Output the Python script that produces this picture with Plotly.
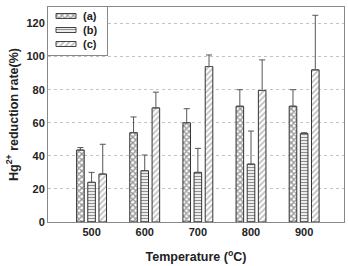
import plotly.graph_objects as go

temps = ["500", "600", "700", "800", "900"]
vals_a = [43.5, 54, 60, 70, 70]
err_a = [1.5, 9.5, 8.5, 10, 10]
vals_b = [24, 31, 30, 35, 53.5]
err_b = [6, 9.5, 14.5, 20, 0.5]
vals_c = [29, 69, 94, 79.5, 92]
err_c = [18, 9.5, 7, 18.5, 33]
names = ["(a)", "(b)", "(c)"]

styles = [
    dict(shape="x", fgcolor="#333333", bgcolor="#ffffff", size=4, solidity=0.6),
    dict(shape="-", fgcolor="#222222", bgcolor="#ffffff", size=3, solidity=0.45),
    dict(shape="/", fgcolor="#808080", bgcolor="#ffffff", size=4, solidity=0.45),
]

TXT = "#222222"
fig = go.Figure()
for name, v, e, st in zip(names, [vals_a, vals_b, vals_c], [err_a, err_b, err_c], styles):
    fig.add_trace(go.Bar(
        name=name, x=temps, y=v, showlegend=False,
        marker=dict(color="white", line=dict(color="#333333", width=1), pattern=st),
        error_y=dict(type="data", symmetric=False, array=e, arrayminus=[0] * len(e),
                     color="#555555", thickness=1, width=3),
    ))

# custom legend drawn in an inset subplot (pixel units inside the legend box)
box_w, box_h = 59, 48
rows = [9, 23, 37]
for name, st, yy in zip(names, styles, rows):
    fig.add_trace(go.Bar(
        x=[20], y=[yy], base=[8], orientation="h", width=5, showlegend=False,
        xaxis="x2", yaxis="y2", hoverinfo="skip",
        marker=dict(color="white", line=dict(color="#444444", width=1), pattern=st),
    ))
    fig.add_annotation(x=33, y=yy, xref="x2", yref="y2", text="<b>%s</b>" % name,
                       showarrow=False, xanchor="left", yanchor="middle",
                       font=dict(family="Liberation Sans", size=11, color=TXT))

W, H = 348, 266
ml, mr, mt, mb = 48, 4, 7, 44
pw, ph = W - ml - mr, H - mt - mb

fig.update_layout(
    width=W, height=H,
    margin=dict(l=ml, r=mr, t=mt, b=mb),
    paper_bgcolor="white", plot_bgcolor="white",
    barmode="group", bargap=0.37, bargroupgap=0.32,
    showlegend=False,
    font=dict(family="Liberation Sans", size=10, color=TXT),
    xaxis=dict(
        domain=[0, 1], anchor="y",
        range=[-0.82, 4.75], showline=True, linecolor="#888888", mirror=True,
        tickfont=dict(family="Liberation Sans", size=11, color=TXT, weight="bold"),
        title=dict(text="Temperature (<sup>o</sup>C)", standoff=15,
                   font=dict(family="Liberation Sans", size=12.5, color=TXT, weight="bold")),
        ticks="", showgrid=False, zeroline=False,
    ),
    yaxis=dict(
        domain=[0, 1], anchor="x",
        range=[0, 130], tickvals=[0, 20, 40, 60, 80, 100, 120],
        showline=True, linecolor="#888888", mirror=True,
        showgrid=True, gridcolor="#c4c4c4", griddash="dot", gridwidth=1,
        zeroline=False,
        tickfont=dict(family="Liberation Sans", size=11, color=TXT, weight="bold"),
        title=dict(text="Hg<sup>2+</sup> reduction rate(%)", standoff=5,
                   font=dict(family="Liberation Sans", size=12.5, color=TXT, weight="bold")),
        ticks="",
    ),
    xaxis2=dict(domain=[0, box_w / pw], range=[0, box_w], anchor="y2",
                showgrid=False, zeroline=False, showticklabels=False, ticks="",
                showline=True, linecolor="#888888", mirror=True, fixedrange=True),
    yaxis2=dict(domain=[1 - box_h / ph, 1], range=[box_h, 0], anchor="x2",
                showgrid=False, zeroline=False, showticklabels=False, ticks="",
                showline=True, linecolor="#888888", mirror=True, fixedrange=True),
)
fig.write_html("out.html")
